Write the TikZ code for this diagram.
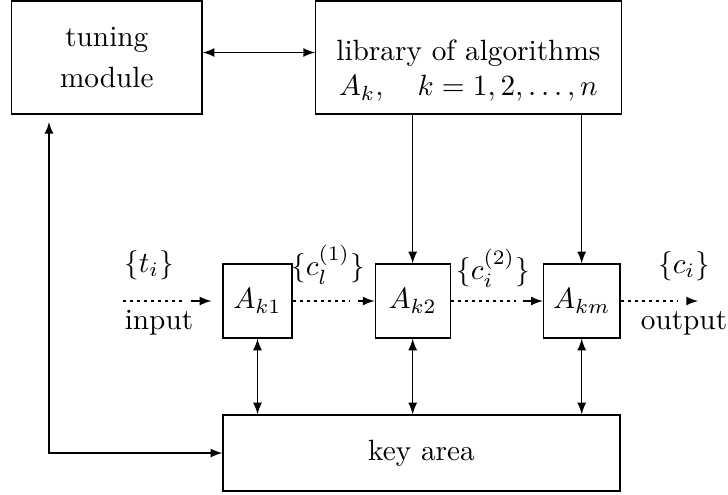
\documentclass[tikz,border=0pt]{standalone}
\usepackage{tikz}
\usetikzlibrary{positioning}
\usepackage{amsmath,amsfonts,amstext,amssymb}
\tikzstyle{rectangle1} = [rectangle, minimum height=1.356cm, text centered, align=center, draw=black]
\tikzstyle{rectangle2} = [rectangle, minimum width=0.9cm, minimum height=0.888cm, text centered, draw=black]
\tikzstyle{rectangle3} = [rectangle, minimum width=4.764cm, minimum height=0.912cm, text centered, draw=black]
\tikzstyle{line1} = [->, >=latex]
\tikzstyle{line2} = [<->, >=latex]
\tikzstyle{line3} = [dash pattern=on 1.1pt off 1.3pt]

\begin{document}
\begin{tikzpicture}
		\useasboundingbox (0,0) rectangle (8.736,5.928);
		\node[rectangle1, minimum width=2.284cm](tuning) at (1.282,5.238){tuning\\[2pt]module};
		\node[rectangle1, minimum width=3.666cm, right=1.35cm of tuning](library){\rule{0pt}{16pt}library of algorithms\\$A_k,\quad k=1,2,\ldots,n$};
		\node[rectangle2, minimum width=0.828cm](ak1) at (3.09,2.316){$A_{k1}$};
		\node[rectangle2, right=0.984cm of ak1](ak2){$A_{k2}$};
		\node[rectangle2, right=1.104cm of ak2](akm){$A_{km}$};
		\node[rectangle3](keyarea) at (5.058,0.492){key area};
		% labels of the data flow
		\node(ti) at (1.788,2.748){$\{t_i\}$};
		\node(input) at (1.908,2.052){input};
		\node(cl1) at (3.936,2.748){$\{c_l^{(1)}\}$};
		\node(ci2) at (5.916,2.712){$\{c_i^{(2)}\}$};
		\node(ci) at (8.208,2.736){$\{c_i\}$};
		\node(output) at (8.208,2.052){output};
		\coordinate(src) at (1.476,2.316);
		\coordinate(dst) at (8.376,2.316);
		\coordinate(fb) at (0.588,4.464);
		% data flow
		\draw[line3] (src) -- ([xshift=-0.456cm]ak1.west);
		\draw[line1] ([xshift=-0.372cm]ak1.west) -- ([xshift=-0.132cm]ak1.west);
		\draw[line3] (ak1.east) -- ([xshift=-0.3cm]ak2.west);
		\draw[line1] ([xshift=-0.2cm]ak2.west) -- (ak2.west);
		\draw[line3] (ak2.east) -- ([xshift=-0.32cm]akm.west);
		\draw[line1] ([xshift=-0.24cm]akm.west) -- (akm.west);
		\draw[line3] (akm.east) -- ([xshift=-0.24cm]dst);
		\draw[line1] ([xshift=-0.132cm]dst) -- (dst);
		% control
		\draw[line2] ([yshift=0.06cm]tuning.east) -- ([yshift=0.06cm]library.west);
		\draw[line1] (library.south -| ak2.north) -- (ak2.north);
		\draw[line1] (library.south -| akm.north) -- (akm.north);
		\foreach \n in {ak1,ak2,akm}
			\draw[line2] (\n.south) -- (keyarea.north -| \n.south);
		\draw[line2] (fb) |- (keyarea.west);
	\end{tikzpicture}
\end{document}
